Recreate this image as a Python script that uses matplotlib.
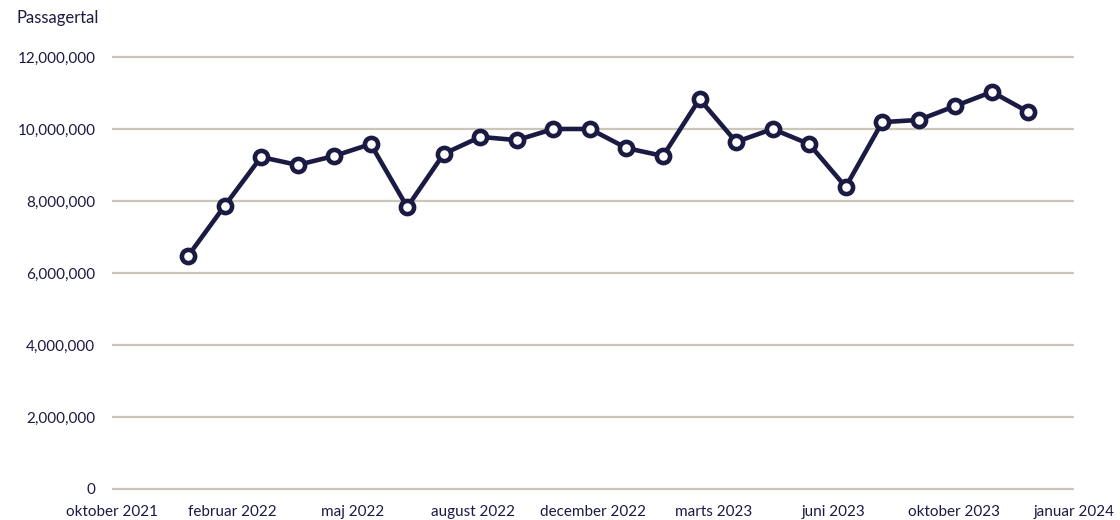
import matplotlib
matplotlib.use("Agg")
import matplotlib.pyplot as plt
from matplotlib.ticker import FuncFormatter
import numpy as np

plt.rcParams['font.family'] = ['Lato', 'DejaVu Sans']

# Monthly passenger numbers (Dec 2021 .. Nov 2023)
values = [6.47e6, 7.86e6, 9.22e6, 9.00e6, 9.25e6, 9.58e6, 7.83e6, 9.31e6,
          9.78e6, 9.69e6, 10.00e6, 10.00e6, 9.47e6, 9.25e6, 10.83e6, 9.64e6,
          10.00e6, 9.58e6, 8.39e6, 10.19e6, 10.25e6, 10.64e6, 11.03e6, 10.47e6]
tick_labels = ["oktober 2021", "februar 2022", "maj 2022", "august 2022",
               "december 2022", "marts 2023", "juni 2023", "oktober 2023",
               "januar 2024"]
y_ticks = [0, 2e6, 4e6, 6e6, 8e6, 10e6, 12e6]
y_label = "Passagertal"

navy = "#1b1a43"
grid_c = "#c9c7b8"

fig = plt.figure(figsize=(11.2, 5.2), dpi=100)
ax = fig.add_axes([0.1, 0.0458, 0.859, 0.8585])

x = np.arange(len(values))
ax.plot(x, values, color=navy, lw=3.3, marker='o', ms=9.5,
        mfc='white', mec=navy, mew=3.3, zorder=3, clip_on=False)

xmin, xmax = -2.08, 24.25
ax.set_xlim(xmin, xmax)
ax.set_ylim(-0.2e6, 12.2e6)
ax.set_xticks(np.linspace(xmin, xmax, len(tick_labels)))
ax.set_xticklabels(tick_labels)
ax.set_yticks(y_ticks)
ax.yaxis.set_major_formatter(FuncFormatter(lambda v, p: f"{int(v):,}"))

ax.grid(axis='y', color=grid_c, lw=1.6)
ax.set_axisbelow(True)
for s in ax.spines.values():
    s.set_visible(False)
ax.tick_params(axis='both', length=0, colors=navy, labelsize=11)
ax.tick_params(axis='y', pad=12)
ax.tick_params(axis='x', pad=6)

fig.text(17/1120, 1 - 18/520, y_label, color=navy, fontsize=12,
         ha='left', va='center')

fig.savefig("out.png", dpi=100)
